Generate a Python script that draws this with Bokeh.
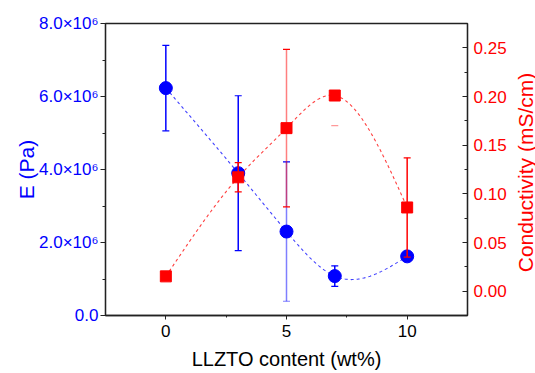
import numpy as np
from bokeh.plotting import figure
from bokeh.layouts import row
from bokeh.models import (Range1d, LinearAxis, FixedTicker, CustomJSTickFormatter,
                          ColumnDataSource, Label)
from bokeh.embed import file_html
from bokeh.resources import INLINE

# ---- data ----
content = [0, 3, 5, 7, 10]
modulus = [6.23e6, 3.90e6, 2.30e6, 1.08e6, 1.62e6]
modulus_err = [1.17e6, 2.12e6, 1.91e6, 0.28e6, 0.10e6]
conductivity = [0.0152, 0.117, 0.1675, 0.201, 0.086]
conductivity_err = [0.004, 0.015, 0.081, 0.031, 0.051]

x_ticks = [0, 5, 10]
x_minor = [2.5, 7.5]
e_ticks = [0, 2e6, 4e6, 6e6, 8e6]
e_minor = [1e6, 3e6, 5e6, 7e6]
c_ticks = [0.0, 0.05, 0.10, 0.15, 0.20, 0.25]
c_minor = [0.025, 0.075, 0.125, 0.175, 0.225]

# styles (kept apart from data)
blue_stem_alpha = [1, 1, 0.5, 1, 1]
red_stem_alpha = [1, 1, 0.5, 0, 1]
red_up_cap_alpha = [1, 1, 1, 0, 1]
red_lo_cap_alpha = [1, 1, 1, 0.4, 1]

BLUE = "#0000ff"
RED = "#ff0000"
FONT = "Liberation Sans"

X_MIN, X_MAX = -2.5, 12.5
E_MIN, E_MAX = 0, 8e6
C_MIN, C_MAX = -0.025, 0.275


def natural_spline(x, y, n=300):
    x = np.asarray(x, float)
    y = np.asarray(y, float)
    k = len(x)
    h = np.diff(x)
    A = np.zeros((k, k))
    b = np.zeros(k)
    A[0, 0] = 1
    A[-1, -1] = 1
    for i in range(1, k - 1):
        A[i, i - 1] = h[i - 1]
        A[i, i] = 2 * (h[i - 1] + h[i])
        A[i, i + 1] = h[i]
        b[i] = 6 * ((y[i + 1] - y[i]) / h[i] - (y[i] - y[i - 1]) / h[i - 1])
    M = np.linalg.solve(A, b)
    xs = np.linspace(x[0], x[-1], n)
    ys = np.empty_like(xs)
    for j, xv in enumerate(xs):
        i = min(np.searchsorted(x, xv, side="right") - 1, k - 2)
        t1 = x[i + 1] - xv
        t0 = xv - x[i]
        ys[j] = (M[i] * t1 ** 3 / (6 * h[i]) + M[i + 1] * t0 ** 3 / (6 * h[i])
                 + (y[i] / h[i] - M[i] * h[i] / 6) * t1
                 + (y[i + 1] / h[i] - M[i + 1] * h[i] / 6) * t0)
    return xs, ys


p = figure(width=512, height=373, output_backend="svg", toolbar_location=None,
           x_range=Range1d(X_MIN, X_MAX), y_range=Range1d(E_MIN, E_MAX),
           x_axis_label="LLZTO content (wt%)", y_axis_label="E (Pa)")
p.min_border_left = 105
p.min_border_right = 45
p.min_border_top = 23
p.min_border_bottom = 58
p.xgrid.visible = False
p.ygrid.visible = False
p.outline_line_color = "#222222"
p.outline_line_width = 1.3
p.background_fill_color = "white"
p.border_fill_color = "white"

p.extra_y_ranges = {"cond": Range1d(C_MIN, C_MAX)}

# --- E series ---
bx, by = natural_spline(content, modulus)
p.line(bx, by, line_color=BLUE, line_dash="3 3", line_width=1.1, line_alpha=0.75)
bsrc = ColumnDataSource(dict(
    x=content, y=modulus,
    lo=[m - e for m, e in zip(modulus, modulus_err)],
    hi=[m + e for m, e in zip(modulus, modulus_err)],
    a=blue_stem_alpha))
p.segment(x0="x", y0="lo", x1="x", y1="hi", source=bsrc, line_color=BLUE,
          line_width=1.5, line_alpha="a")
p.scatter(x="x", y="lo", source=bsrc, marker="dash", size=7, line_color=BLUE,
          line_width=1.2, line_alpha="a")
p.scatter(x="x", y="hi", source=bsrc, marker="dash", size=7, line_color=BLUE,
          line_width=1.2)
p.scatter(x="x", y="y", source=bsrc, marker="circle", size=13,
          fill_color=BLUE, line_color=BLUE)

# --- conductivity series ---
rx, ry = natural_spline(content, conductivity)
p.line(rx, ry, line_color=RED, line_dash="3 3", line_width=1.1, line_alpha=0.75,
       y_range_name="cond")
rsrc = ColumnDataSource(dict(
    x=content, y=conductivity,
    lo=[c - e for c, e in zip(conductivity, conductivity_err)],
    hi=[c + e for c, e in zip(conductivity, conductivity_err)],
    a=red_stem_alpha, au=red_up_cap_alpha, al=red_lo_cap_alpha))
p.segment(x0="x", y0="lo", x1="x", y1="hi", source=rsrc, line_color=RED,
          line_width=1.5, line_alpha="a", y_range_name="cond")
p.scatter(x="x", y="lo", source=rsrc, marker="dash", size=7, line_color=RED,
          line_width=1.2, line_alpha="al", y_range_name="cond")
p.scatter(x="x", y="hi", source=rsrc, marker="dash", size=7, line_color=RED,
          line_width=1.2, line_alpha="au", y_range_name="cond")
p.scatter(x="x", y="y", source=rsrc, marker="square", size=11,
          fill_color=RED, line_color=RED, y_range_name="cond")

# --- axes ---
xa = p.xaxis[0]
xa.ticker = FixedTicker(ticks=x_ticks, minor_ticks=x_minor)
xa.major_label_text_font = FONT
xa.major_label_text_font_size = "17px"
xa.major_label_text_color = "black"
xa.axis_label_text_font = FONT
xa.axis_label_text_font_size = "20px"
xa.axis_label_text_font_style = "normal"
xa.axis_label_text_color = "black"
xa.axis_line_color = "#222222"
xa.axis_line_width = 1.3
xa.major_tick_line_color = "#222222"
xa.minor_tick_line_color = "#222222"
xa.major_tick_in = 0
xa.major_tick_out = 4
xa.minor_tick_in = 0
xa.minor_tick_out = 2
xa.major_label_standoff = 5
xa.axis_label_standoff = 8

ya = p.yaxis[0]
ya.ticker = FixedTicker(ticks=e_ticks, minor_ticks=e_minor)
ya.formatter = CustomJSTickFormatter(
    code="return tick == 0 ? '0.0' : (tick / 1e6).toFixed(1) + '\u00d710\u2076';")
ya.major_label_text_font = FONT
ya.major_label_text_font_size = "17px"
ya.major_label_text_color = BLUE
ya.axis_label_text_font = FONT
ya.axis_label_text_font_size = "21px"
ya.axis_label_text_font_style = "normal"
ya.axis_label_text_color = BLUE
ya.axis_line_color = "#222222"
ya.axis_line_width = 1.3
ya.major_tick_line_color = "#222222"
ya.minor_tick_line_color = "#222222"
ya.major_tick_in = 0
ya.major_tick_out = 5
ya.minor_tick_in = 0
ya.minor_tick_out = 3
ya.major_label_standoff = 2
ya.axis_label_standoff = -2

ra = LinearAxis(y_range_name="cond")
ra.ticker = FixedTicker(ticks=c_ticks, minor_ticks=c_minor)
ra.formatter = CustomJSTickFormatter(code="return tick.toFixed(2);")
ra.major_label_text_font = FONT
ra.major_label_text_font_size = "17px"
ra.major_label_text_color = RED
ra.axis_line_color = "#222222"
ra.axis_line_width = 1.3
ra.major_tick_line_color = "#222222"
ra.minor_tick_line_color = "#222222"
ra.major_tick_in = 5
ra.major_tick_out = 0
ra.minor_tick_in = 3
ra.minor_tick_out = 0
ra.major_label_standoff = 6
p.add_layout(ra, "right")

# narrow strip holding the right axis title, reading bottom-to-top
t = figure(width=23, height=373, output_backend="svg", toolbar_location=None,
           x_range=Range1d(0, 1), y_range=Range1d(E_MIN, E_MAX),
           x_axis_location=None, y_axis_location=None)
t.min_border_left = 0
t.min_border_right = 0
t.min_border_top = 23
t.min_border_bottom = 58
t.xgrid.visible = False
t.ygrid.visible = False
t.outline_line_color = None
t.background_fill_color = "white"
t.border_fill_color = "white"
t.add_layout(Label(x=0.5, y=(E_MIN + E_MAX) / 2, x_offset=1, y_offset=-3,
                   text="Conductivity (mS/cm)", angle=np.pi / 2,
                   text_align="center", text_baseline="middle",
                   text_font=FONT, text_font_size="21px", text_color=RED))

layout = row(p, t, spacing=0)
open("out.html", "w").write(file_html(layout, INLINE))
